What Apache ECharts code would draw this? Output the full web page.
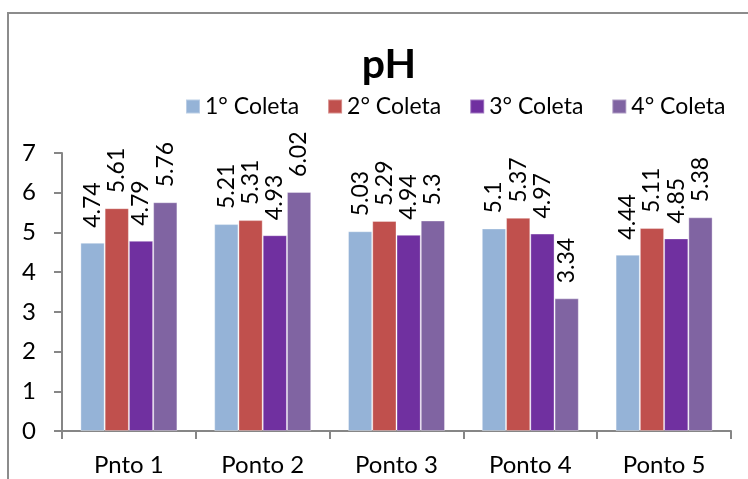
<!DOCTYPE html>
<html>
<head>
<meta charset="utf-8">
<title>pH</title>
<script src="https://cdn.jsdelivr.net/npm/echarts@6/dist/echarts.min.js"></script>
<style>
  html, body { margin: 0; padding: 0; background: #fff; }
  #chart { width: 748px; height: 479px; }
</style>
</head>
<body>
<div id="chart"></div>
<script>
// dados do gráfico
var categorias = ['Pnto 1', 'Ponto 2', 'Ponto 3', 'Ponto 4', 'Ponto 5'];
var nomesSeries = ['1° Coleta', '2° Coleta', '3° Coleta', '4° Coleta'];
var coleta1 = [4.74, 5.21, 5.03, 5.1, 4.44];
var coleta2 = [5.61, 5.31, 5.29, 5.37, 5.11];
var coleta3 = [4.79, 4.93, 4.94, 4.97, 4.85];
var coleta4 = [5.76, 6.02, 5.3, 3.34, 5.38];
var ticksY = [0, 1, 2, 3, 4, 5, 6, 7];

var cores = ['#95B3D7', '#C0504D', '#7030A0', '#8064A2'];
var fonte = 'Lato, "Open Sans", sans-serif';

var myChart = echarts.init(document.getElementById('chart'));

function serie(nome, dados, cor) {
  return {
    name: nome,
    type: 'bar',
    data: dados,
    barGap: '0%',
    barCategoryGap: '27.5%',
    itemStyle: {
      color: cor,
      borderColor: 'rgba(255,255,255,0.35)',
      borderWidth: 1
    },
    label: {
      show: true,
      position: 'top',
      rotate: 90,
      align: 'left',
      verticalAlign: 'middle',
      distance: 15,
      color: '#000',
      fontFamily: fonte,
      fontSize: 23
    }
  };
}

myChart.setOption({
  animation: false,
  // moldura cinza
  graphic: [{
    type: 'rect',
    shape: { x: 8, y: 13, width: 800, height: 520 },
    style: { fill: 'none', stroke: '#8c8c8c', lineWidth: 2 }
  }],
  title: {
    text: 'pH',
    left: 384,
    textAlign: 'center',
    top: 39,
    textStyle: {
      fontFamily: fonte,
      fontWeight: 'bold',
      fontSize: 41,
      color: '#000'
    }
  },
  legend: {
    data: nomesSeries,
    left: 180,
    top: 90,
    icon: 'rect',
    itemWidth: 14,
    itemHeight: 14,
    itemGap: 28,
    textStyle: {
      fontFamily: fonte,
      fontSize: 23,
      color: '#000'
    }
  },
  grid: {
    left: 62,
    right: 17,
    top: 153,
    bottom: 48,
    containLabel: false
  },
  xAxis: {
    type: 'category',
    data: categorias,
    axisLine: { lineStyle: { color: '#868686', width: 2 } },
    axisTick: { show: true, length: 8, lineStyle: { color: '#868686', width: 2 } },
    axisLabel: {
      margin: 22,
      color: '#000',
      fontFamily: fonte,
      fontSize: 24
    }
  },
  yAxis: {
    type: 'value',
    min: ticksY[0],
    max: ticksY[ticksY.length - 1],
    interval: 1,
    splitLine: { show: false },
    axisLine: { show: true, lineStyle: { color: '#868686', width: 2 } },
    axisTick: { show: true, length: 8, lineStyle: { color: '#868686', width: 2 } },
    axisLabel: {
      margin: 26,
      color: '#000',
      fontFamily: fonte,
      fontSize: 24
    }
  },
  series: [
    serie(nomesSeries[0], coleta1, cores[0]),
    serie(nomesSeries[1], coleta2, cores[1]),
    serie(nomesSeries[2], coleta3, cores[2]),
    serie(nomesSeries[3], coleta4, cores[3])
  ]
});
</script>
</body>
</html>
